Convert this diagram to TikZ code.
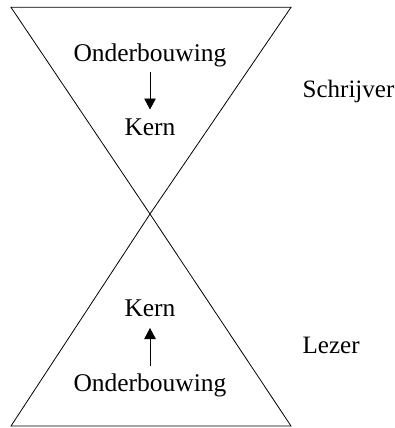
\documentclass[tikz,border=0pt]{standalone}
\usepackage{fontspec}
\setmainfont{Liberation Serif}
\usetikzlibrary{arrows.meta}
\tikzset{
  lbl/.style={anchor=base,inner sep=0pt,font=\fontsize{25.5}{30}\selectfont},
  side/.style={anchor=base west,inner sep=0pt,font=\fontsize{25}{30}\selectfont},
  flow/.style={line width=0.8pt,-{Triangle[length=11pt,width=11.5pt]}},
  tri/.style={line width=0.8pt,line join=miter}
}
\begin{document}
\begin{tikzpicture}[x=1pt,y=-1pt]
\useasboundingbox (0,0) rectangle (394,428);
% triangles
\coordinate (tl) at (11,7.3);
\coordinate (tr) at (291,7.3);
\coordinate (ap) at (150,214);
\coordinate (bl) at (11,426);
\coordinate (br) at (291,426);
\draw[tri] (tl) -- (tr) -- (ap) -- cycle;
\draw[tri] (bl) -- (br) -- (ap) -- cycle;
% top
\node[lbl] (o1) at (150,61) {Onderbouwing};
\node[lbl] (k1) at (150,135.5) {Kern};
\coordinate (a1s) at (150,72);
\coordinate (a1e) at (150,109.5);
\draw[flow] (a1s) -- (a1e);
\node[side] (s) at (302.5,97.3) {Schrijver};
% bottom
\node[lbl] (k2) at (150,316) {Kern};
\node[lbl] (o2) at (150,391) {Onderbouwing};
\coordinate (a2s) at (150,366);
\coordinate (a2e) at (150,328);
\draw[flow] (a2s) -- (a2e);
\node[side] (l) at (302.5,353) {Lezer};
\end{tikzpicture}
\end{document}
